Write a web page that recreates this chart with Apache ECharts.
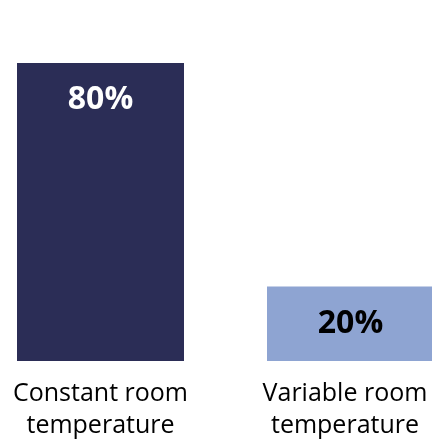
<!DOCTYPE html>
<html>
<head>
<meta charset="utf-8">
<script src="https://cdn.jsdelivr.net/npm/echarts@6/dist/echarts.min.js"></script>
<style>
html,body{margin:0;padding:0;background:#fff;}
#chart{width:432px;height:439px;}
</style>
</head>
<body>
<div id="chart"></div>
<script>
const categories = ['Constant room\ntemperature', 'Variable room\ntemperature'];
const values = [80, 20];

const barColors = ['#2b2d56', '#8ea4d2'];
const labelColors = ['#ffffff', '#000000'];
const FONT = '"Open Sans", "Noto Sans", sans-serif';

const chart = echarts.init(document.getElementById('chart'), null, {renderer: 'canvas'});
chart.setOption({
  animation: false,
  backgroundColor: '#ffffff',
  grid: {left: -24.5, width: 500, top: 63, bottom: 78, containLabel: false, outerBoundsMode: 'none'},
  xAxis: {
    type: 'category',
    data: categories.map((c, i) => ({
      value: c,
      textStyle: i === 1 ? {padding: [0, 11, 0, 0]} : {}
    })),
    axisLine: {show: false},
    axisTick: {show: false},
    axisLabel: {
      interval: 0,
      margin: 17,
      fontFamily: FONT,
      fontSize: 25,
      lineHeight: 32,
      color: '#000000'
    }
  },
  yAxis: {
    type: 'value',
    min: 0,
    max: 80,
    show: false,
    splitLine: {show: false}
  },
  series: [{
    type: 'bar',
    barWidth: 167,
    data: values.map((v, i) => ({
      value: v,
      itemStyle: {color: barColors[i]},
      label: {color: labelColors[i]}
    })),
    label: {
      show: true,
      position: ['50%', 37],
      align: 'center',
      verticalAlign: 'middle',
      formatter: p => p.value + '%',
      fontFamily: FONT,
      fontWeight: 'bold',
      fontSize: 32
    }
  }]
});
</script>
</body>
</html>
